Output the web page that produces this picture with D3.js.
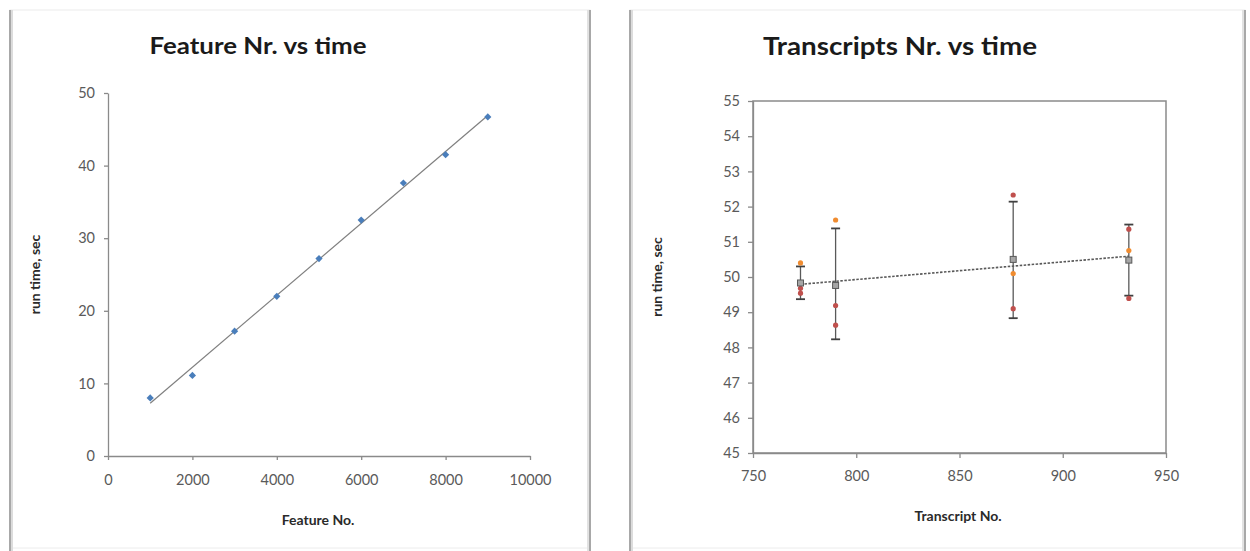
<!DOCTYPE html>
<html>
<head>
<meta charset="utf-8">
<script src="https://cdn.jsdelivr.net/npm/d3@7"></script>
<style>
  html, body { margin: 0; padding: 0; background: #ffffff; }
  svg { display: block; }
  text { font-family: Lato, "Open Sans", sans-serif; }
</style>
</head>
<body>
<svg id="chart" width="1250" height="551"></svg>
<script>
// ---------- Data: left chart ----------
const featureNo = [1000, 2000, 3000, 4000, 5000, 6000, 7000, 8000, 9000];
const featureTime = [8.0, 11.1, 17.2, 22.0, 27.2, 32.5, 37.6, 41.5, 46.7];
const featureXTicks = [0, 2000, 4000, 6000, 8000, 10000];
const featureYTicks = [0, 10, 20, 30, 40, 50];

// ---------- Data: right chart ----------
const transcriptNo = [773, 790, 876, 932];
const orangeRun = [50.40, 51.62, 50.10, 50.75];
const redRunA = [49.68, 49.19, 52.33, 51.36];
const redRunB = [49.54, 48.63, 49.10, 49.39];
const meanTime = [49.83, 49.76, 50.50, 50.48];
const errLow = [49.37, 48.23, 48.83, 49.47];
const errHigh = [50.30, 51.38, 52.14, 51.49];
const transcriptXTicks = [750, 800, 850, 900, 950];
const transcriptYTicks = [45, 46, 47, 48, 49, 50, 51, 52, 53, 54, 55];

const svg = d3.select("#chart");

// linear regression helper (trendline computed from the data)
function fit(xs, ys) {
  const mx = d3.mean(xs), my = d3.mean(ys);
  let sxy = 0, sxx = 0;
  xs.forEach((x, i) => { sxy += (x - mx) * (ys[i] - my); sxx += (x - mx) * (x - mx); });
  const b = sxy / sxx;
  return x => my + b * (x - mx);
}

// ---------- Panel frames ----------
function panel(x0, x1) {
  const g = svg.append("g");
  g.append("rect").attr("x", x0).attr("y", 10).attr("width", x1 - x0).attr("height", 538)
    .attr("fill", "#ffffff").attr("stroke", "#ececec").attr("stroke-width", 1);
  g.append("line").attr("x1", x0).attr("x2", x0).attr("y1", 10).attr("y2", 551)
    .attr("stroke", "#a8a8a8").attr("stroke-width", 2);
  g.append("line").attr("x1", x0 + 2).attr("x2", x0 + 2).attr("y1", 10).attr("y2", 551)
    .attr("stroke", "#dcdcdc").attr("stroke-width", 2);
  g.append("line").attr("x1", x1).attr("x2", x1).attr("y1", 10).attr("y2", 551)
    .attr("stroke", "#a8a8a8").attr("stroke-width", 2);
  g.append("line").attr("x1", x1 - 2).attr("x2", x1 - 2).attr("y1", 10).attr("y2", 551)
    .attr("stroke", "#e2e2e2").attr("stroke-width", 2);
}
panel(10, 590);
panel(630, 1245);

function styleAxis(g) {
  g.selectAll(".domain").attr("stroke", "#8a8a8a").attr("stroke-width", 1.3);
  g.selectAll(".tick line").attr("stroke", "#8a8a8a").attr("stroke-width", 1.3);
  g.selectAll(".tick text").attr("fill", "#5a5a5a").style("font-size", "14.5px")
    .style("font-family", "Lato, 'Open Sans', sans-serif");
}

function axisTitle(g, x, y, rotate, label) {
  g.append("text").attr("transform", `translate(${x},${y})` + (rotate ? " rotate(-90)" : ""))
    .attr("text-anchor", "middle").attr("fill", "#2a2a2a")
    .style("font-size", "14px").style("font-weight", "bold").text(label);
}

// ---------- Left chart ----------
{
  const x = d3.scaleLinear().domain([0, 10000]).range([108, 530]);
  const y = d3.scaleLinear().domain([0, 50]).range([456, 93]);
  const g = svg.append("g");

  g.append("text").attr("x", 258).attr("y", 54).attr("text-anchor", "middle")
    .attr("fill", "#1a1a1a").style("font-size", "23px").style("font-weight", "bold")
    .attr("textLength", 217).attr("lengthAdjust", "spacingAndGlyphs")
    .text("Feature Nr. vs time");

  const ya = g.append("g").attr("transform", `translate(${x(0)},0)`)
    .call(d3.axisLeft(y).tickValues(featureYTicks).tickSize(4).tickPadding(9).tickSizeOuter(0));
  styleAxis(ya);
  const xa = g.append("g").attr("transform", `translate(0,${y(0)})`)
    .call(d3.axisBottom(x).tickValues(featureXTicks).tickSize(4).tickPadding(15).tickSizeOuter(0).tickFormat(d3.format("d")));
  styleAxis(xa);

  const f = fit(featureNo, featureTime);
  const x0 = d3.min(featureNo), x1 = d3.max(featureNo);
  g.append("line").attr("x1", x(x0)).attr("y1", y(f(x0))).attr("x2", x(x1)).attr("y2", y(f(x1)))
    .attr("stroke", "#7f7f7f").attr("stroke-width", 1.2);

  g.selectAll(".pt").data(featureNo).enter().append("path")
    .attr("transform", (d, i) => `translate(${x(d)},${y(featureTime[i])})`)
    .attr("d", "M0,-3.6L3.6,0L0,3.6L-3.6,0Z")
    .attr("fill", "#4a7ebb");

  axisTitle(g, 318, 525, false, "Feature No.");
  axisTitle(g, 40, (93 + 456) / 2, true, "run time, sec");
}

// ---------- Right chart ----------
{
  const x = d3.scaleLinear().domain([750, 950]).range([753, 1166]);
  const y = d3.scaleLinear().domain([45, 55]).range([453, 101]);
  const g = svg.append("g");

  g.append("text").attr("x", 900).attr("y", 55).attr("text-anchor", "middle")
    .attr("fill", "#1a1a1a").style("font-size", "25px").style("font-weight", "bold")
    .attr("textLength", 274).attr("lengthAdjust", "spacingAndGlyphs")
    .text("Transcripts Nr. vs time");

  // plot box
  g.append("rect").attr("x", x(750)).attr("y", y(55)).attr("width", x(950) - x(750)).attr("height", y(45) - y(55))
    .attr("fill", "none").attr("stroke", "#8a8a8a").attr("stroke-width", 1.5);

  const ya = g.append("g").attr("transform", `translate(${x(750)},0)`)
    .call(d3.axisLeft(y).tickValues(transcriptYTicks).tickSize(5).tickPadding(8).tickSizeOuter(0));
  styleAxis(ya);
  const xa = g.append("g").attr("transform", `translate(0,${y(45)})`)
    .call(d3.axisBottom(x).tickValues(transcriptXTicks).tickSize(5).tickPadding(13).tickSizeOuter(0));
  styleAxis(xa);

  // trendline over the means
  const f = fit(transcriptNo, meanTime);
  const x0 = d3.min(transcriptNo), x1 = d3.max(transcriptNo);
  g.append("line").attr("x1", x(x0)).attr("y1", y(f(x0))).attr("x2", x(x1)).attr("y2", y(f(x1)))
    .attr("stroke", "#595959").attr("stroke-width", 1.6).attr("stroke-dasharray", "2.5,1.5");

  // error bars
  const eb = g.selectAll(".eb").data(transcriptNo).enter().append("g");
  eb.append("line").attr("x1", d => x(d)).attr("x2", d => x(d))
    .attr("y1", (d, i) => y(errLow[i])).attr("y2", (d, i) => y(errHigh[i]))
    .attr("stroke", "#595959").attr("stroke-width", 1.3);
  eb.append("line").attr("x1", d => x(d) - 4.5).attr("x2", d => x(d) + 4.5)
    .attr("y1", (d, i) => y(errLow[i])).attr("y2", (d, i) => y(errLow[i]))
    .attr("stroke", "#404040").attr("stroke-width", 1.8);
  eb.append("line").attr("x1", d => x(d) - 4.5).attr("x2", d => x(d) + 4.5)
    .attr("y1", (d, i) => y(errHigh[i])).attr("y2", (d, i) => y(errHigh[i]))
    .attr("stroke", "#404040").attr("stroke-width", 1.8);

  // replicate points
  const dots = (vals, color) => g.selectAll(null).data(transcriptNo).enter().append("circle")
    .attr("cx", d => x(d)).attr("cy", (d, i) => y(vals[i])).attr("r", 2.6).attr("fill", color);
  dots(redRunA, "#c0504d");
  dots(redRunB, "#c0504d");
  dots(orangeRun, "#f08c30");

  // mean squares
  g.selectAll(".mean").data(transcriptNo).enter().append("rect")
    .attr("x", d => x(d) - 3).attr("y", (d, i) => y(meanTime[i]) - 3)
    .attr("width", 6).attr("height", 6)
    .attr("fill", "#a6a6a6").attr("stroke", "#595959").attr("stroke-width", 1);

  axisTitle(g, 958, 521, false, "Transcript No.");
  axisTitle(g, 662, (101 + 453) / 2, true, "run time, sec");
}
</script>
</body>
</html>
